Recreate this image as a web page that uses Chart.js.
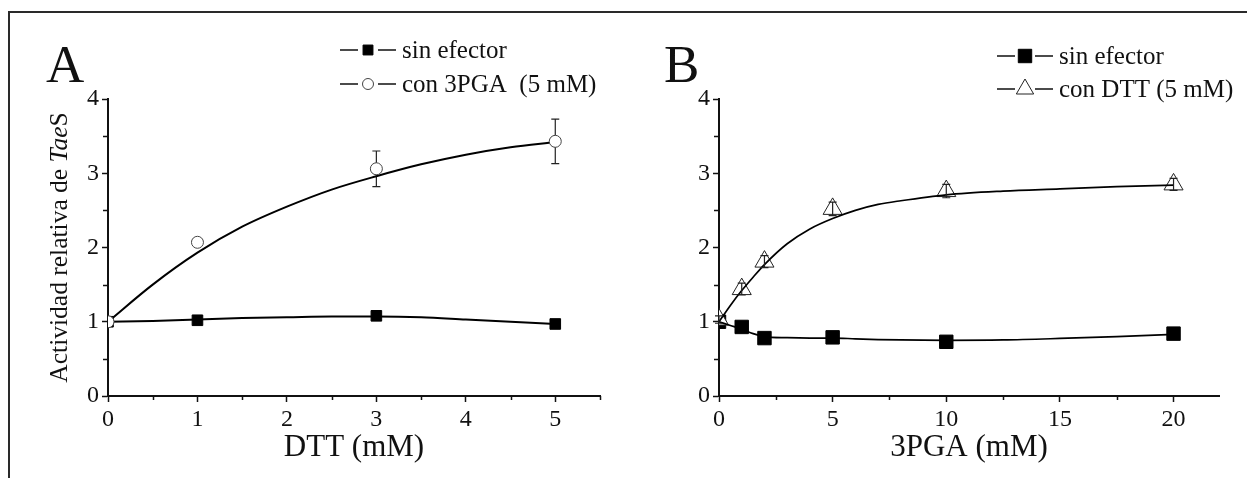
<!DOCTYPE html>
<html>
<head>
<meta charset="utf-8">
<title>Actividad relativa de TaeS</title>
<script src="https://cdn.jsdelivr.net/npm/chart.js@4.4.1/dist/chart.umd.min.js"></script>
<style>
  html, body { margin: 0; padding: 0; background: #fff; }
  #frame { position: absolute; left: 8px; top: 11px; width: 1250px; height: 480px;
           border-top: 2px solid #2a2a2a; border-left: 2px solid #2a2a2a; }
  #panelA { position: absolute; left: 0; top: 0; }
  #panelB { position: absolute; left: 620px; top: 0; }
</style>
</head>
<body>
<div id="frame"></div>
<canvas id="panelA" width="620" height="478"></canvas>
<canvas id="panelB" width="627" height="478"></canvas>
<script>
// ---- Panel A: activity vs DTT ----
const dttDoses       = [0, 1, 3, 5];
const dttSinEfector  = [1.00, 1.02, 1.08, 0.97];
const dttCon3PGA     = [1.00, 2.07, 3.06, 3.43];
const dttCon3PGAErr  = [0, 0, 0.24, 0.30];
// fitted curves
const dttFitX        = [0, 0.5, 1, 1.5, 2, 2.5, 3, 3.5, 4, 4.5, 5];
const dttFitSin      = [1.00, 1.01, 1.03, 1.05, 1.06, 1.07, 1.07, 1.06, 1.03, 1.00, 0.97];
const dttFitCon      = [1.00, 1.50, 1.93, 2.28, 2.55, 2.78, 2.96, 3.12, 3.25, 3.35, 3.42];
const dttTicks       = [0, 1, 2, 3, 4, 5];
const dttMinorTicks  = [0.5, 1.5, 2.5, 3.5, 4.5, 5.5];

// ---- Panel B: activity vs 3PGA ----
const pgaDoses       = [0, 1, 2, 5, 10, 20];
const pgaSinEfector  = [1.00, 0.93, 0.78, 0.79, 0.73, 0.84];
const pgaConDTT      = [1.03, 1.44, 1.81, 2.52, 2.76, 2.85];
const pgaConDTTErr   = [0.05, 0.08, 0.08, 0.09, 0.09, 0.08];
const pgaFitX        = [0, 0.5, 1, 1.5, 2, 3, 4, 5, 6, 7, 8, 10, 12.5, 15, 17.5, 20];
const pgaFitSin      = [1.00, 0.95, 0.90, 0.84, 0.80, 0.785, 0.78, 0.78, 0.77, 0.76, 0.755, 0.75, 0.755, 0.775, 0.80, 0.83];
const pgaFitCon      = [1.00, 1.22, 1.42, 1.60, 1.77, 2.05, 2.25, 2.39, 2.50, 2.58, 2.63, 2.71, 2.76, 2.79, 2.82, 2.84];
const pgaTicks       = [0, 5, 10, 15, 20];
const pgaMinorTicks  = [2.5, 7.5, 12.5, 17.5];

// ---- shared activity axis ----
const activityTicks      = [0, 1, 2, 3, 4];
const activityMinorTicks = [0.5, 1.5, 2.5, 3.5];

const SERIF = '"Liberation Serif", "Times New Roman", Times, serif';
const INK = '#111';

function pts(xs, ys) { return xs.map((x, i) => ({ x: x, y: ys[i] })); }

function drawMarker(ctx, style, x, y, r, fill, stroke) {
  ctx.save();
  ctx.fillStyle = fill;
  ctx.strokeStyle = stroke;
  ctx.lineWidth = 1;
  ctx.beginPath();
  if (style === 'rect') {
    const s = r * Math.SQRT1_2;
    ctx.rect(x - s, y - s, 2 * s, 2 * s);
  } else if (style === 'circle') {
    ctx.arc(x, y, r, 0, Math.PI * 2);
  } else if (style === 'triangle') {
    const a = -Math.PI / 2;
    for (let k = 0; k < 3; k++) {
      const t = a + k * 2 * Math.PI / 3;
      const px = x + r * Math.cos(t), py = y + r * Math.sin(t);
      if (k === 0) ctx.moveTo(px, py); else ctx.lineTo(px, py);
    }
    ctx.closePath();
  }
  ctx.fill();
  ctx.stroke();
  ctx.restore();
}

function drawErrorBars(chart, o) {
  if (!o.err) return;
  const { ctx } = chart;
  const xs = chart.scales.x, ys = chart.scales.y;
  ctx.save();
  ctx.strokeStyle = '#222';
  ctx.lineWidth = 1.2;
  o.err.x.forEach((xv, i) => {
    const e = o.err.e[i];
    if (!e) return;
    const px = xs.getPixelForValue(xv);
    const top = ys.getPixelForValue(o.err.y[i] + e);
    const bot = ys.getPixelForValue(o.err.y[i] - e);
    const cw = o.err.cap;
    ctx.beginPath();
    ctx.moveTo(px, top); ctx.lineTo(px, bot);
    ctx.moveTo(px - cw, top); ctx.lineTo(px + cw, top);
    ctx.moveTo(px - cw, bot); ctx.lineTo(px + cw, bot);
    ctx.stroke();
  });
  ctx.restore();
}

// minor ticks, panel letter, legend and rotated axis title
const decor = {
  id: 'decor',
  beforeDatasetsDraw(chart, args, o) { if (!o.barsOnTop) drawErrorBars(chart, o); },
  afterDatasetsDraw(chart, args, o) { if (o.barsOnTop) drawErrorBars(chart, o); },
  afterDraw(chart, args, o) {
    const { ctx, chartArea } = chart;
    const xs = chart.scales.x, ys = chart.scales.y;
    ctx.save();
    ctx.strokeStyle = INK;
    ctx.lineWidth = 1.5;
    ctx.beginPath();
    o.xMinor.forEach(v => {
      const px = Math.round(xs.getPixelForValue(v)) + 0.5;
      ctx.moveTo(px, chartArea.bottom); ctx.lineTo(px, chartArea.bottom + 4);
    });
    o.yMinor.forEach(v => {
      const py = Math.round(ys.getPixelForValue(v)) + 0.5;
      ctx.moveTo(chartArea.left, py); ctx.lineTo(chartArea.left - 5, py);
    });
    ctx.stroke();

    // panel letter
    ctx.fillStyle = INK;
    ctx.font = '53px ' + SERIF;
    ctx.textAlign = 'left';
    ctx.textBaseline = 'alphabetic';
    ctx.fillText(o.letter, o.letterX, o.letterY);

    // legend
    const L = o.legend;
    L.items.forEach((it, i) => {
      const y = L.rows[i];
      ctx.strokeStyle = INK;
      ctx.lineWidth = 1.6;
      ctx.beginPath();
      ctx.moveTo(L.x, y); ctx.lineTo(L.x + 18, y);
      ctx.moveTo(L.x + 38, y); ctx.lineTo(L.x + 56, y);
      ctx.stroke();
      drawMarker(ctx, it.style, L.x + 28, y, it.r, it.fill, it.stroke);
      ctx.fillStyle = INK;
      ctx.font = L.size + 'px ' + SERIF;
      ctx.textAlign = 'left';
      ctx.textBaseline = 'middle';
      ctx.fillText(it.label, L.x + 62, y + 1);
    });

    // rotated y title with italic gene name
    if (o.yTitle) {
      const parts = o.yTitle.parts;
      ctx.translate(o.yTitle.x, (chartArea.top + chartArea.bottom) / 2);
      ctx.rotate(-Math.PI / 2);
      ctx.textBaseline = 'middle';
      ctx.textAlign = 'left';
      let total = 0;
      parts.forEach(p => { ctx.font = (p.italic ? 'italic ' : '') + o.yTitle.size + 'px ' + SERIF; total += ctx.measureText(p.text).width; });
      let cx = -total / 2;
      parts.forEach(p => {
        ctx.font = (p.italic ? 'italic ' : '') + o.yTitle.size + 'px ' + SERIF;
        ctx.fillText(p.text, cx, 0);
        cx += ctx.measureText(p.text).width;
      });
    }
    ctx.restore();
  }
};

function axisOptions(min, max, ticks, fixFn, extra) {
  return Object.assign({
    type: 'linear',
    min: min, max: max,
    afterBuildTicks: s => { s.ticks = ticks.map(v => ({ value: v })); },
    afterFit: fixFn,
    border: { display: true, color: INK, width: 2 },
    grid: { display: true, drawOnChartArea: false, drawTicks: true, tickLength: 6, tickColor: INK, tickWidth: 1.5 },
    ticks: { color: INK, font: { family: SERIF, size: 24 }, padding: 3, maxRotation: 0, autoSkip: false }
  }, extra || {});
}

// lower "order" is painted later (on top)
function lineSet(xs, ys, width, order) {
  return { type: 'line', data: pts(xs, ys), borderColor: '#000', borderWidth: width, pointRadius: 0,
           cubicInterpolationMode: 'monotone', fill: false, order: order };
}
function pointSet(xs, ys, style, r, fill, stroke, order) {
  return { type: 'line', data: pts(xs, ys), showLine: false, pointStyle: style, pointRadius: r,
           pointHoverRadius: r, pointBackgroundColor: fill, pointBorderColor: stroke, pointBorderWidth: 1,
           order: order };
}

const common = {
  responsive: false, animation: false,
  plugins: { legend: { display: false }, tooltip: { enabled: false } },
  elements: { line: { tension: 0.4 } }
};

new Chart(document.getElementById('panelA'), {
  type: 'line',
  data: { datasets: [
    lineSet(dttFitX, dttFitSin, 2, 2),
    lineSet(dttFitX, dttFitCon, 2, 2),
    pointSet(dttDoses, dttSinEfector, 'rect', 7.5, '#000', '#000', 1),
    pointSet(dttDoses, dttCon3PGA, 'circle', 6, '#fff', '#444', 0)
  ]},
  options: Object.assign({}, common, {
    layout: { padding: { left: 0, right: 20, top: 99, bottom: 0 } },
    scales: {
      x: axisOptions(0, 5.5, dttTicks, s => { s.height = 82; }, {
        title: { display: true, text: 'DTT (mM)', color: INK, font: { family: SERIF, size: 31 }, padding: { top: 0, bottom: 12 } }
      }),
      y: axisOptions(0, 4, activityTicks, s => { s.width = 108; })
    },
    plugins: Object.assign({}, common.plugins, {
      decor: {
        xMinor: dttMinorTicks, yMinor: activityMinorTicks,
        err: { x: dttDoses, y: dttCon3PGA, e: dttCon3PGAErr, cap: 4 }, barsOnTop: false,
        letter: 'A', letterX: 46, letterY: 82,
        legend: { x: 340, rows: [50, 84], size: 25, items: [
          { label: 'sin efector', style: 'rect', r: 7, fill: '#000', stroke: '#000' },
          { label: 'con 3PGA  (5 mM)', style: 'circle', r: 5.5, fill: '#fff', stroke: '#444' }
        ]},
        yTitle: { x: 60, size: 25.5, parts: [
          { text: 'Actividad relativa de ' }, { text: 'Tae', italic: true }, { text: 'S' }
        ]}
      }
    })
  }),
  plugins: [decor]
});

new Chart(document.getElementById('panelB'), {
  type: 'line',
  data: { datasets: [
    lineSet(pgaFitX, pgaFitSin, 1.7, 0),
    lineSet(pgaFitX, pgaFitCon, 1.7, 0),
    pointSet(pgaDoses, pgaSinEfector, 'rect', 9.5, '#000', '#000', 2),
    pointSet(pgaDoses, pgaConDTT, 'triangle', 11, '#fff', '#222', 1)
  ]},
  options: Object.assign({}, common, {
    layout: { padding: { left: 0, right: 28, top: 99, bottom: 0 } },
    scales: {
      x: axisOptions(0, 22, pgaTicks, s => { s.height = 82; }, {
        title: { display: true, text: '3PGA (mM)', color: INK, font: { family: SERIF, size: 31 }, padding: { top: 0, bottom: 12 } }
      }),
      y: axisOptions(0, 4, activityTicks, s => { s.width = 99; })
    },
    plugins: Object.assign({}, common.plugins, {
      decor: {
        xMinor: pgaMinorTicks, yMinor: activityMinorTicks,
        err: { x: pgaDoses, y: pgaConDTT, e: pgaConDTTErr, cap: 4 }, barsOnTop: true,
        letter: 'B', letterX: 44, letterY: 82,
        legend: { x: 377, rows: [56, 89], size: 25, items: [
          { label: 'sin efector', style: 'rect', r: 9.5, fill: '#000', stroke: '#000' },
          { label: 'con DTT (5 mM)', style: 'triangle', r: 10, fill: '#fff', stroke: '#222' }
        ]}
      }
    })
  }),
  plugins: [decor]
});
</script>
</body>
</html>
